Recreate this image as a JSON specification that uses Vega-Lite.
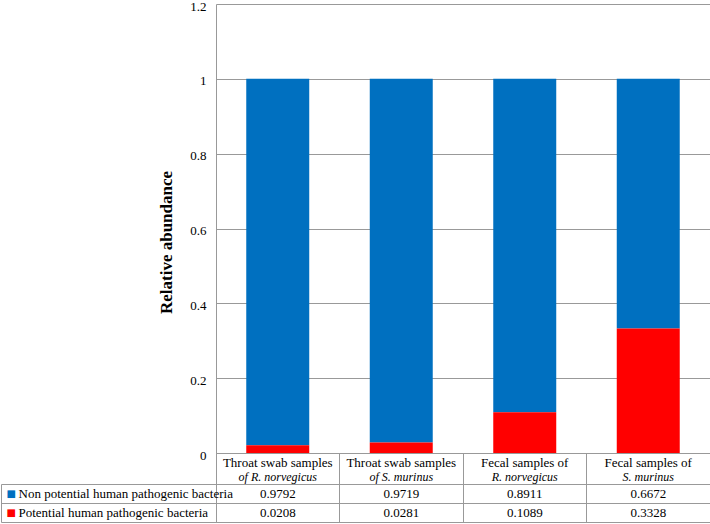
{
  "$schema": "https://vega.github.io/schema/vega-lite/v6.json",
  "padding": {"left": 0, "top": 0, "right": 0, "bottom": 0},
  "spacing": 0,
  "bounds": "flush",
  "config": {
    "font": "Liberation Serif",
    "view": {"stroke": null},
    "axis": {"labelColor": "#000000", "titleColor": "#000000", "labelFont": "Liberation Serif", "titleFont": "Liberation Serif"},
    "text": {"color": "#000000", "font": "Liberation Serif"}
  },
  "datasets": {
    "abundance": [
      {"sample": "Throat swab samples of R. norvegicus", "line1": "Throat swab samples", "line2": "of R. norvegicus", "type": "Non potential human pathogenic bacteria", "value": 0.9792},
      {"sample": "Throat swab samples of R. norvegicus", "line1": "Throat swab samples", "line2": "of R. norvegicus", "type": "Potential human pathogenic bacteria", "value": 0.0208},
      {"sample": "Throat swab samples of S. murinus", "line1": "Throat swab samples", "line2": "of S. murinus", "type": "Non potential human pathogenic bacteria", "value": 0.9719},
      {"sample": "Throat swab samples of S. murinus", "line1": "Throat swab samples", "line2": "of S. murinus", "type": "Potential human pathogenic bacteria", "value": 0.0281},
      {"sample": "Fecal samples of R. norvegicus", "line1": "Fecal samples of", "line2": "R. norvegicus", "type": "Non potential human pathogenic bacteria", "value": 0.8911},
      {"sample": "Fecal samples of R. norvegicus", "line1": "Fecal samples of", "line2": "R. norvegicus", "type": "Potential human pathogenic bacteria", "value": 0.1089},
      {"sample": "Fecal samples of S. murinus", "line1": "Fecal samples of", "line2": "S. murinus", "type": "Non potential human pathogenic bacteria", "value": 0.6672},
      {"sample": "Fecal samples of S. murinus", "line1": "Fecal samples of", "line2": "S. murinus", "type": "Potential human pathogenic bacteria", "value": 0.3328}
    ]
  },
  "vconcat": [
    {
      "width": 494,
      "height": 449,
      "data": {"name": "abundance"},
      "mark": {"type": "bar"},
      "encoding": {
        "x": {"field": "sample", "type": "nominal", "sort": null, "scale": {"type": "band", "paddingInner": 0.49, "paddingOuter": 0.245}, "axis": null},
        "y": {
          "field": "value", "type": "quantitative", "stack": "zero",
          "scale": {"domain": [0, 1.2], "nice": false, "zero": true},
          "axis": {
            "values": [0, 0.2, 0.4, 0.6, 0.8, 1, 1.2], "format": "~g",
            "grid": true, "gridColor": "#999999", "gridOpacity": 1,
            "domain": true, "domainColor": "#999999",
            "ticks": false, "labelPadding": 10, "labelFontSize": 13, "labelOffset": 2,
            "title": "Relative abundance", "titleFontSize": 17, "titleFontWeight": "bold", "titlePadding": 14, "titleY": 238
          }
        },
        "color": {
          "field": "type", "type": "nominal",
          "scale": {"domain": ["Non potential human pathogenic bacteria", "Potential human pathogenic bacteria"], "range": ["#0070C0", "#FF0000"]},
          "legend": null
        },
        "order": {"field": "type", "sort": "descending"}
      }
    },
    {
      "width": 494,
      "height": 31,
      "data": {"name": "abundance"},
      "transform": [{"filter": "datum.type === 'Non potential human pathogenic bacteria'"}],
      "view": {"stroke": "#999999"},
      "encoding": {
        "x": {"field": "sample", "type": "nominal", "sort": null, "scale": {"type": "band", "paddingInner": 0, "paddingOuter": 0},
          "axis": {"grid": true, "bandPosition": 0, "gridColor": "#999999", "gridOpacity": 1, "labels": false, "ticks": false, "domain": false, "title": null}},
        "y": {"datum": "header", "type": "nominal", "scale": {"type": "band", "paddingInner": 0, "paddingOuter": 0},
          "axis": {"bandPosition": 1, "ticks": true, "tickSize": 215, "tickColor": "#999999", "labels": false, "domain": false, "grid": false, "title": null}}
      },
      "layer": [
        {"mark": {"type": "text", "align": "center", "dy": -6, "fontSize": 13}, "encoding": {"text": {"field": "line1", "type": "nominal"}}},
        {"mark": {"type": "text", "align": "center", "dy": 8, "fontSize": 12, "fontStyle": "italic"}, "encoding": {"text": {"field": "line2", "type": "nominal"}}}
      ]
    },
    {
      "width": 494,
      "height": 38,
      "data": {"name": "abundance"},
      "view": {"stroke": "#999999"},
      "encoding": {
        "x": {"field": "sample", "type": "nominal", "sort": null, "scale": {"type": "band", "paddingInner": 0, "paddingOuter": 0},
          "axis": {"grid": true, "bandPosition": 0, "gridColor": "#999999", "gridOpacity": 1, "labels": false, "ticks": false, "domain": false, "title": null}}
      },
      "layer": [
        {
          "mark": {"type": "text", "align": "center", "fontSize": 13},
          "encoding": {
            "y": {"field": "type", "type": "nominal",
              "scale": {"type": "band", "domain": ["Non potential human pathogenic bacteria", "Potential human pathogenic bacteria"], "paddingInner": 0, "paddingOuter": 0},
              "axis": {"bandPosition": 1, "grid": true, "gridColor": "#999999", "gridOpacity": 1, "ticks": true, "tickSize": 215, "tickColor": "#999999",
                "labelAlign": "left", "labelPadding": -17, "labelFontSize": 13, "labelLimit": 0, "domain": false, "title": null}},
            "text": {"field": "value", "type": "quantitative", "format": ".4f"}
          }
        },
        {
          "mark": {"type": "text", "text": ""},
          "encoding": {
            "y": {"field": "type", "type": "nominal",
              "scale": {"type": "band", "domain": ["Non potential human pathogenic bacteria", "Potential human pathogenic bacteria"], "paddingInner": 0, "paddingOuter": 0},
              "axis": {"orient": "left", "offset": 215, "ticks": false, "grid": false, "domain": true, "domainColor": "#999999",
                "labelExpr": "'■'", "labelAlign": "left", "labelPadding": -5, "labelFontSize": 10, "labelFont": "DejaVu Sans",
                "labelColor": {"condition": {"test": "datum.value === 'Potential human pathogenic bacteria'", "value": "#FF0000"}, "value": "#0070C0"},
                "title": null}
            }
          }
        }
      ],
      "resolve": {"scale": {"y": "independent"}, "axis": {"y": "independent"}}
    }
  ]
}
